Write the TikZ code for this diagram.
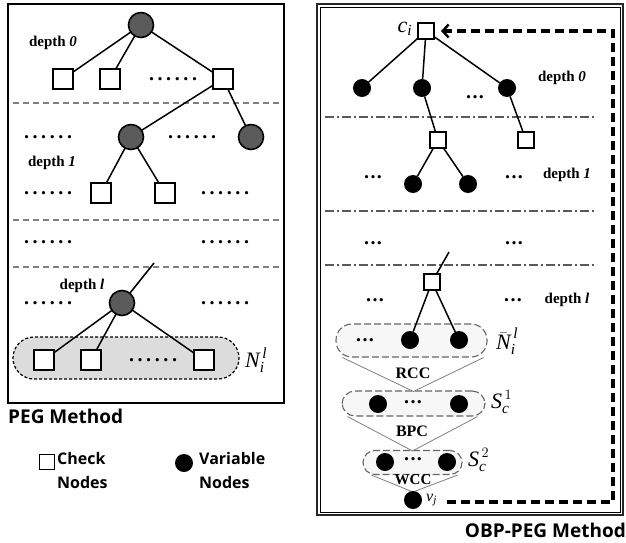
\documentclass[tikz,border=0pt]{standalone}
\usepackage{amsmath}
\usepackage{fontspec}
\setmainfont{Liberation Serif}
\newfontfamily\headfont{Open Sans}
\usetikzlibrary{arrows.meta}
\definecolor{vdark}{HTML}{5A5A5A}
\definecolor{grpfill}{HTML}{DCDCDC}
\newcommand\sixdots{\fontsize{20}{20}\selectfont\bfseries .\hspace{3.6pt}.\hspace{3.6pt}.\hspace{3.6pt}.\hspace{3.6pt}.\hspace{3.6pt}.}
\newcommand\threedots{\fontsize{20}{20}\selectfont\bfseries .\hspace{1.3pt}.\hspace{1.3pt}.}
\newcommand\ti[1]{\textit{#1}}
\begin{document}
\begin{tikzpicture}[x=1pt,y=-1pt,
  chk/.style={draw,line width=1.6pt,fill=white,minimum size=20pt,inner sep=0,outer sep=0},
  chkR/.style={draw,line width=1.3pt,fill=white,minimum size=16pt,inner sep=0,outer sep=0},
  varL/.style={circle,draw,line width=1.6pt,fill=vdark,minimum size=25pt,inner sep=0,outer sep=0},
  varR/.style={circle,fill=black,minimum size=18pt,inner sep=0,outer sep=0},
  edge/.style={line width=1.5pt},
  dlabel/.style={font=\fontsize{15}{18}\selectfont\bfseries,inner sep=0},
  dts/.style={inner sep=0},
  sepL/.style={draw=gray,line width=1.1pt,dash pattern=on 6pt off 4pt},
  sepR/.style={draw=black!65,line width=1.1pt,dash pattern=on 9pt off 3pt on 2pt off 3pt},
  grpL/.style={draw,fill=grpfill,line width=1.2pt,dash pattern=on 3pt off 2pt,rounded corners=21pt},
  grpR/.style={draw=black!60,fill=black!3,line width=1.1pt,dash pattern=on 7pt off 3pt},
  tri/.style={draw=black!50,line width=0.8pt},
  mlab/.style={inner sep=0,font=\fontsize{22}{24}\selectfont},
  proc/.style={inner sep=0,font=\fontsize{16}{18}\selectfont\bfseries},
  bigarrow/.style={line width=3.2pt,dash pattern=on 9pt off 5pt,-{Straight Barb[length=6pt,width=13pt,line width=2.4pt]}},
  legend/.style={inner sep=0,font=\headfont\bfseries\fontsize{16}{24}\selectfont,align=left,anchor=west},
  title/.style={inner sep=0,font=\headfont\bfseries\fontsize{19}{22}\selectfont}
]
\path[fill=white] (0,0) rectangle (626,543);
\useasboundingbox (0,0) rectangle (626,543);

% ---------------- Left panel ----------------
\draw[line width=2pt] (8,4) rectangle (284,403);
\draw[sepL] (13,103) -- (280,103);
\draw[sepL] (13,220) -- (280,220);
\draw[sepL] (13,267) -- (280,267);

\node[dlabel] (ld0) at (53,43) {depth \textit{0}};
\node[dlabel] (ld1) at (52,163) {depth \textit{1}};
\node[dlabel] (ldl) at (82,286) {depth \textit{l}};

\node[grpL,minimum width=226pt,minimum height=42pt] (NG) at (126,358) {};
\node[mlab,anchor=west] (NGlab) at (245,360) {$\ti{N}_{\ti{i}}^{\,\ti{l}}$};

\node[varL] (r0) at (141,25) {};
\node[chk] (a1) at (63,79) {};
\node[chk] (a2) at (110,79) {};
\node[chk] (a3) at (223,79) {};
\node[dts] (ad) at (173,79) {\sixdots};

\node[varL] (b1) at (131,137) {};
\node[varL] (b2) at (251,137) {};
\node[dts] (bd1) at (48,137) {\sixdots};
\node[dts] (bd2) at (192,137) {\sixdots};

\node[chk] (c1) at (101,193) {};
\node[chk] (c2) at (165,193) {};
\node[dts] (cd1) at (48,193) {\sixdots};
\node[dts] (cd2) at (225,193) {\sixdots};

\node[dts] (xd1) at (48,242) {\sixdots};
\node[dts] (xd2) at (225,242) {\sixdots};

\coordinate (lt) at (154,263);
\node[varL] (d1) at (122,303) {};
\node[dts] (dd1) at (48,303) {\sixdots};
\node[dts] (dd2) at (225,303) {\sixdots};

\node[chk] (e1) at (44,360) {};
\node[chk] (e2) at (91,360) {};
\node[chk] (e3) at (204,360) {};
\node[dts] (ed) at (153,360) {\sixdots};

\draw[edge] (r0) -- (a1);
\draw[edge] (r0) -- (a2);
\draw[edge] (r0) -- (a3);
\draw[edge] (a3) -- (b1);
\draw[edge] (a3) -- (b2);
\draw[edge] (b1) -- (c1);
\draw[edge] (b1) -- (c2);
\draw[edge] (lt) -- (d1);
\draw[edge] (d1) -- (e1);
\draw[edge] (d1) -- (e2);
\draw[edge] (d1) -- (e3);

\node[title,anchor=base west] (pegt) at (8,423) {PEG Method};

% legend
\node[draw,line width=1.2pt,minimum size=15pt,inner sep=0] (lgs) at (47,462) {};
\node[legend] (lgst) at (57,470) {Check\\Nodes};
\node[circle,fill=black,minimum size=18pt,inner sep=0] (lgc) at (184,463) {};
\node[legend] (lgct) at (199,470) {Variable\\Nodes};

% ---------------- Right panel ----------------
\draw[line width=2pt,draw=black!85] (317,4) rectangle (623,515);
\draw[line width=0.8pt] (320,7) rectangle (620,512);

\draw[sepR] (325,117) -- (597,117);
\draw[sepR] (325,211) -- (597,211);
\draw[sepR] (325,265) -- (597,265);

\node[dlabel] (rd0) at (562,78) {depth \textit{0}};
\node[dlabel] (rd1) at (567,175) {depth \textit{1}};
\node[dlabel] (rdl) at (567,300) {depth \textit{l}};

\node[chkR] (ci) at (426,31) {};
\node[mlab] (cilab) at (405,29) {$\ti{c}_{\ti{i}}$};

\node[varR] (f1) at (362,88) {};
\node[varR] (f2) at (422,88) {};
\node[varR] (f3) at (507,88) {};
\node[dts] (fd) at (475,97) {\threedots};

\node[chkR] (g1) at (438,140) {};
\node[chkR] (g2) at (526,140) {};

\node[varR] (h1) at (413,184) {};
\node[varR] (h2) at (468,184) {};
\node[dts] (hd1) at (373,177) {\threedots};
\node[dts] (hd2) at (514,177) {\threedots};

\node[dts] (yd1) at (373,243) {\threedots};
\node[dts] (yd2) at (514,243) {\threedots};

\coordinate (rt) at (449,252);
\node[chkR] (k1) at (432,282) {};
\node[dts] (kd1) at (375,300) {\threedots};
\node[dts] (kd2) at (513,300) {\threedots};

% groups
\node[grpR,rounded corners=16pt,minimum width=151pt,minimum height=33pt] (G1) at (411.5,340.5) {};
\node[grpR,rounded corners=13pt,minimum width=143pt,minimum height=25pt] (G2) at (413.5,403.5) {};
\node[grpR,rounded corners=12pt,minimum width=99pt,minimum height=24pt] (G3) at (412.5,462.5) {};

\draw[tri] ([xshift=7pt]G1.south west) -- ([yshift=-1pt]G2.north) -- ([xshift=-4pt]G1.south east);
\draw[tri] ([xshift=6pt]G2.south west) -- ([yshift=-1pt]G3.north) -- ([xshift=-8pt]G2.south east);
\draw[tri] ([xshift=9pt]G3.south west) -- (413,492) -- ([xshift=-5pt]G3.south east);

\node[proc] (rcc) at (413,373) {RCC};
\node[proc] (bpc) at (412,431) {BPC};
\node[proc,font=\fontsize{15}{17}\selectfont\bfseries] (wcc) at (413,480) {WCC};

\node[varR] (m1) at (410,340) {};
\node[varR] (m2) at (459,340) {};
\node[dts] (md) at (365,340) {\threedots};
\node[mlab,anchor=west] (G1lab) at (496,341) {$\bar{\ti{N}}_{\ti{i}}^{\,\ti{l}}$};

\node[varR] (n1) at (378,404) {};
\node[varR] (n2) at (459,404) {};
\node[dts] (nd) at (413,402) {\threedots};
\node[mlab,anchor=west] (G2lab) at (491,402) {$\ti{S}_{\ti{c}}^{\,1}$};

\node[varR] (p1) at (385,462) {};
\node[varR] (p2) at (447,462) {};
\node[dts] (pd) at (413,459) {\threedots};
\node[mlab,anchor=west] (G3lab) at (468,460) {$\ti{S}_{\ti{c}}^{\,2}$};

\node[varR] (v) at (413,500) {};
\node[inner sep=0,font=\fontsize{16}{18}\selectfont,anchor=west] (vlab) at (426,500) {$\ti{v}_{\ti{j}}$};

\draw[edge] (ci) -- (f1);
\draw[edge] (ci) -- (f2);
\draw[edge] (ci) -- (f3);
\draw[edge] (f2) -- (g1);
\draw[edge] (f3) -- (g2);
\draw[edge] (g1) -- (h1);
\draw[edge] (g1) -- (h2);
\draw[edge] (rt) -- (k1);
\draw[edge] (k1) -- (m1);
\draw[edge] (k1) -- (m2);

\coordinate (vs) at (447,502);
\coordinate (rb) at (613,502);
\coordinate (rc) at (613,31);
\draw[bigarrow,shorten >=7pt] (vs) -- (rb) -- (rc) -- (ci);

\node[title,anchor=base east] (obpt) at (626,537) {OBP-PEG Method};
\end{tikzpicture}
\end{document}
